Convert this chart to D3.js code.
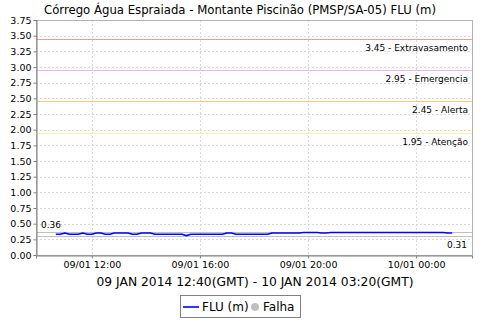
<!DOCTYPE html>
<html>
<head>
<meta charset="utf-8">
<script src="https://cdn.jsdelivr.net/npm/d3@7"></script>
<style>
  body { margin: 0; background: #fff; }
  text { font-family: "DejaVu Sans", sans-serif; }
</style>
</head>
<body>
<svg id="chart" width="480" height="320"></svg>
<script>
// FLU readings, one every 10 minutes from 09/01 10:40 (local) to 10/01 01:20
const startTime = new Date(2014, 0, 9, 10, 40);
const stepMinutes = 10;
const fluValues = [
  0.33, 0.33, 0.35, 0.33, 0.33, 0.33, 0.35, 0.33, 0.33, 0.35,
  0.35, 0.33, 0.33, 0.35, 0.35, 0.35, 0.35, 0.33, 0.33, 0.35,
  0.35, 0.35, 0.33, 0.33, 0.33, 0.33, 0.33, 0.33, 0.33, 0.31,
  0.33, 0.33, 0.33, 0.33, 0.33, 0.33, 0.33, 0.33, 0.35, 0.35,
  0.33, 0.33, 0.33, 0.33, 0.33, 0.33, 0.33, 0.33, 0.35, 0.35,
  0.35, 0.35, 0.35, 0.35, 0.35, 0.36, 0.36, 0.36, 0.36, 0.35,
  0.35, 0.36, 0.36, 0.36, 0.36, 0.36, 0.36, 0.36, 0.36, 0.36,
  0.36, 0.36, 0.36, 0.36, 0.36, 0.36, 0.36, 0.36, 0.36, 0.36,
  0.36, 0.36, 0.36, 0.36, 0.36, 0.36, 0.36, 0.35, 0.35
];

const thresholdValues = [3.45, 2.95, 2.45, 1.95];
const thresholdNames = ["Extravasamento", "Emergencia", "Alerta", "Atenção"];
const thresholdColors = ["#f09a9a", "#e8b4ee", "#ffc47e", "#f8f0b0"];

const yTicks = [0, 0.25, 0.5, 0.75, 1, 1.25, 1.5, 1.75, 2, 2.25, 2.5, 2.75, 3, 3.25, 3.5, 3.75];

const chartTitle = "Córrego Água Espraiada - Montante Piscinão (PMSP/SA-05) FLU (m)";
const subTitle = "09 JAN 2014 12:40(GMT) - 10 JAN 2014 03:20(GMT)";
const legendNames = ["FLU (m)", "Falha"];

const data = fluValues.map((v, i) => ({
  t: new Date(startTime.getTime() + i * stepMinutes * 60000),
  v: v
}));

const svg = d3.select("#chart");
const plotL = 36, plotR = 472, plotT = 20, plotB = 255;

const tExtent = d3.extent(data, d => d.t);
const tMargin = (tExtent[1] - tExtent[0]) * 0.05;
const x = d3.scaleTime()
  .domain([new Date(tExtent[0].getTime() - tMargin), new Date(tExtent[1].getTime() + tMargin)])
  .range([plotL, plotR]);
const y = d3.scaleLinear().domain([0, 3.75]).range([plotB, plotT]);

const xTicks = x.ticks(d3.timeHour.every(4));

// title
svg.append("text")
  .attr("x", 240).attr("y", 14)
  .attr("text-anchor", "middle")
  .attr("font-size", 11.7)
  .text(chartTitle);

// grid
const grid = svg.append("g").attr("stroke", "#d8d8d8").attr("stroke-dasharray", "2,2");
grid.selectAll("line.h").data(yTicks).join("line")
  .attr("x1", plotL).attr("x2", plotR)
  .attr("y1", d => Math.round(y(d)) + 0.5).attr("y2", d => Math.round(y(d)) + 0.5);
grid.selectAll("line.v").data(xTicks).join("line")
  .attr("x1", d => Math.round(x(d)) + 0.5).attr("x2", d => Math.round(x(d)) + 0.5)
  .attr("y1", plotT).attr("y2", plotB);

// plot border
svg.append("rect")
  .attr("x", plotL + 0.5).attr("y", plotT + 0.5)
  .attr("width", plotR - plotL).attr("height", plotB - plotT)
  .attr("fill", "none").attr("stroke", "#b0b0b0");

// threshold lines
svg.append("g").selectAll("line").data(thresholdValues).join("line")
  .attr("x1", plotL).attr("x2", plotR)
  .attr("y1", d => Math.round(y(d)) + 0.5).attr("y2", d => Math.round(y(d)) + 0.5)
  .attr("stroke", (d, i) => thresholdColors[i]);
svg.append("g").selectAll("text").data(thresholdValues).join("text")
  .attr("x", plotR - 4)
  .attr("y", d => y(d) + 12)
  .attr("text-anchor", "end")
  .attr("font-size", 9)
  .text((d, i) => d3.format(".2f")(d) + " - " + thresholdNames[i]);

// max/min markers
const vMax = d3.max(fluValues), vMin = d3.min(fluValues);
svg.append("g").selectAll("line").data([vMax, vMin]).join("line")
  .attr("x1", plotL).attr("x2", plotR)
  .attr("y1", d => Math.round(y(d)) + 0.5).attr("y2", d => Math.round(y(d)) + 0.5)
  .attr("stroke", "#c0c0c0");
svg.append("text")
  .attr("x", plotL + 5).attr("y", y(vMax) - 4)
  .attr("font-size", 9)
  .text(d3.format(".2f")(vMax));
svg.append("text")
  .attr("x", plotR - 5).attr("y", y(vMin) + 12)
  .attr("text-anchor", "end")
  .attr("font-size", 9)
  .text(d3.format(".2f")(vMin));

// series
svg.append("path")
  .datum(data)
  .attr("fill", "none")
  .attr("stroke", "#0000ff")
  .attr("stroke-width", 1.6)
  .attr("d", d3.line().x(d => x(d.t)).y(d => y(d.v)));

// axes
const yAxis = svg.append("g")
  .attr("transform", `translate(${plotL + 0.5},0)`)
  .call(d3.axisLeft(y).tickValues(yTicks).tickFormat(d3.format(".2f")).tickSize(3).tickPadding(2));
const xAxis = svg.append("g")
  .attr("transform", `translate(0,${plotB + 0.5})`)
  .call(d3.axisBottom(x).tickValues(xTicks).tickFormat(d3.timeFormat("%d/%m %H:%M")).tickSize(3).tickPadding(3));
[yAxis, xAxis].forEach(a => {
  a.select(".domain").attr("stroke", "#808080");
  a.selectAll(".tick line").attr("stroke", "#808080");
  a.selectAll(".tick text").attr("fill", "#000").attr("font-size", 9.5)
    .attr("font-family", "DejaVu Sans, sans-serif");
});

// subtitle
svg.append("text")
  .attr("x", 255).attr("y", 286)
  .attr("text-anchor", "middle")
  .attr("font-size", 12.3)
  .text(subTitle);

// legend
const lg = svg.append("g");
lg.append("rect")
  .attr("x", 180.5).attr("y", 295.5).attr("width", 120).attr("height", 22)
  .attr("fill", "#fff").attr("stroke", "#808080");
lg.append("line")
  .attr("x1", 183).attr("x2", 199).attr("y1", 307).attr("y2", 307)
  .attr("stroke", "#0000ff").attr("stroke-width", 1.6);
lg.append("text").attr("x", 202).attr("y", 311).attr("font-size", 12).text(legendNames[0]);
lg.append("circle").attr("cx", 255).attr("cy", 307).attr("r", 4).attr("fill", "#c0c0c0");
lg.append("text").attr("x", 263).attr("y", 311).attr("font-size", 12).text(legendNames[1]);
</script>
</body>
</html>
